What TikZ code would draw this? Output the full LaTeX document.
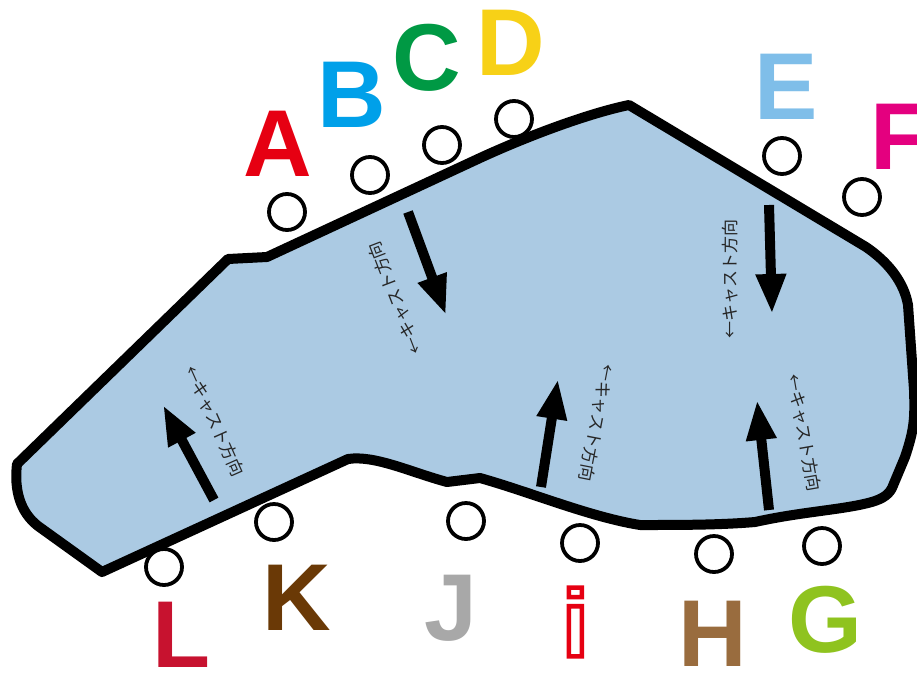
\documentclass[tikz,border=0pt]{standalone}
\usepackage{fontspec}
\setmainfont{Liberation Sans}
\newfontfamily\cjk{Noto Sans CJK JP}
\usetikzlibrary{arrows.meta}
\definecolor{lake}{HTML}{ABCAE3}
\tikzset{
  shore/.style={draw=black,line width=10pt,fill=lake,line join=round},
  spot/.style={circle,draw=black,line width=3.8pt,fill=white,minimum size=36pt,inner sep=0pt},
  letter/.style={font=\fontsize{95}{95}\selectfont\bfseries,inner sep=0pt},
  cast/.style={font=\cjk\fontsize{17}{18}\selectfont,inner sep=0pt,text=black!85},
  flow/.style={line width=10pt,-{Triangle[length=40pt,width=28pt]}}
}
\begin{document}
\begin{tikzpicture}[x=1pt,y=-1pt]
\useasboundingbox (0,0) rectangle (917,672);
\clip (0,0) rectangle (917,672);
\draw[shore] (629,105) -- (866,247) .. controls (888,262) and (904,282) .. (908,305)
  -- (914,390) .. controls (915,420) and (914,430) .. (905,457) -- (892,488)
  .. controls (888,496) and (880,500) .. (868,503)
  .. controls (840,510) and (800,512) .. (755,522) .. controls (720,525) and (680,525) .. (640,525)
  .. controls (590,517) and (530,492) .. (480,478) -- (447,482)
  .. controls (410,472) and (375,455) .. (348,459) -- (102,572) -- (38,526)
  .. controls (20,512) and (14,490) .. (17,464) -- (228,259) -- (267,257)
  -- (480,158) .. controls (530,135) and (590,113) .. (629,105) -- cycle;
\node[spot] (sa) at (287,212) {};
\node[spot] (sb) at (370,175) {};
\node[spot] (sc) at (442,145) {};
\node[spot] (sd) at (514,119) {};
\node[spot] (se) at (782,156) {};
\node[spot] (sf) at (862,197) {};
\node[spot] (sg) at (822,546) {};
\node[spot] (sh) at (714,554) {};
\node[spot] (si) at (580,543) {};
\node[spot] (sj) at (466,521) {};
\node[spot] (sk) at (274,522) {};
\node[spot] (sl) at (164,567) {};
\node[letter,text={rgb,255:red,230;green,0;blue,18}] (la) at (278,144) {A};
\node[letter,text={rgb,255:red,0;green,160;blue,233}] (lb) at (352,95) {B};
\node[letter,text={rgb,255:red,0;green,153;blue,68}] (lc) at (427,58) {C};
\node[letter,text={rgb,255:red,247;green,209;blue,23}] (ld) at (511,43) {D};
\node[letter,text={rgb,255:red,127;green,190;blue,233}] (le) at (786,87) {E};
\node[letter,text={rgb,255:red,228;green,0;blue,127}] (lf) at (899,137) {F};
\node[letter,text={rgb,255:red,143;green,195;blue,31}] (lg) at (825,620) {G};
\node[letter,text={rgb,255:red,153;green,108;blue,62}] (lh) at (713,634) {H};
\node[letter,text={rgb,255:red,168;green,168;blue,168}] (lj) at (451,608) {J};
\node[letter,text={rgb,255:red,106;green,57;blue,6}] (lk) at (297,598) {K};
\node[letter,text={rgb,255:red,199;green,18;blue,47}] (ll) at (182,635) {L};
% outlined "i"
\node[letter,anchor=center] (li) at (575.5,622) {\special{pdf:code q 1 Tr 4.5 w 0.902 0 0.07 RG}i\special{pdf:code 0 Tr Q}};
\coordinate (a1) at (408,212); \coordinate (a2) at (446,315);
\coordinate (b1) at (769,205); \coordinate (b2) at (772,314);
\coordinate (c1) at (769,510); \coordinate (c2) at (757,400);
\coordinate (d1) at (541,487); \coordinate (d2) at (558,379);
\coordinate (e1) at (214,500); \coordinate (e2) at (163,405);
\draw[flow] (a1) -- (a2);
\draw[flow] (b1) -- (b2);
\draw[flow] (c1) -- (c2);
\draw[flow] (d1) -- (d2);
\draw[flow] (e1) -- (e2);
\node[cast,rotate=111] (t1) at (395,298) {←キャスト方向};
\node[cast,rotate=90] (t2) at (730,279) {←キャスト方向};
\node[cast,rotate=-80] (t3) at (804,433) {←キャスト方向};
\node[cast,rotate=-101] (t4) at (597,423) {←キャスト方向};
\node[cast,rotate=-66] (t5) at (215,421) {←キャスト方向};
\end{tikzpicture}
\end{document}
